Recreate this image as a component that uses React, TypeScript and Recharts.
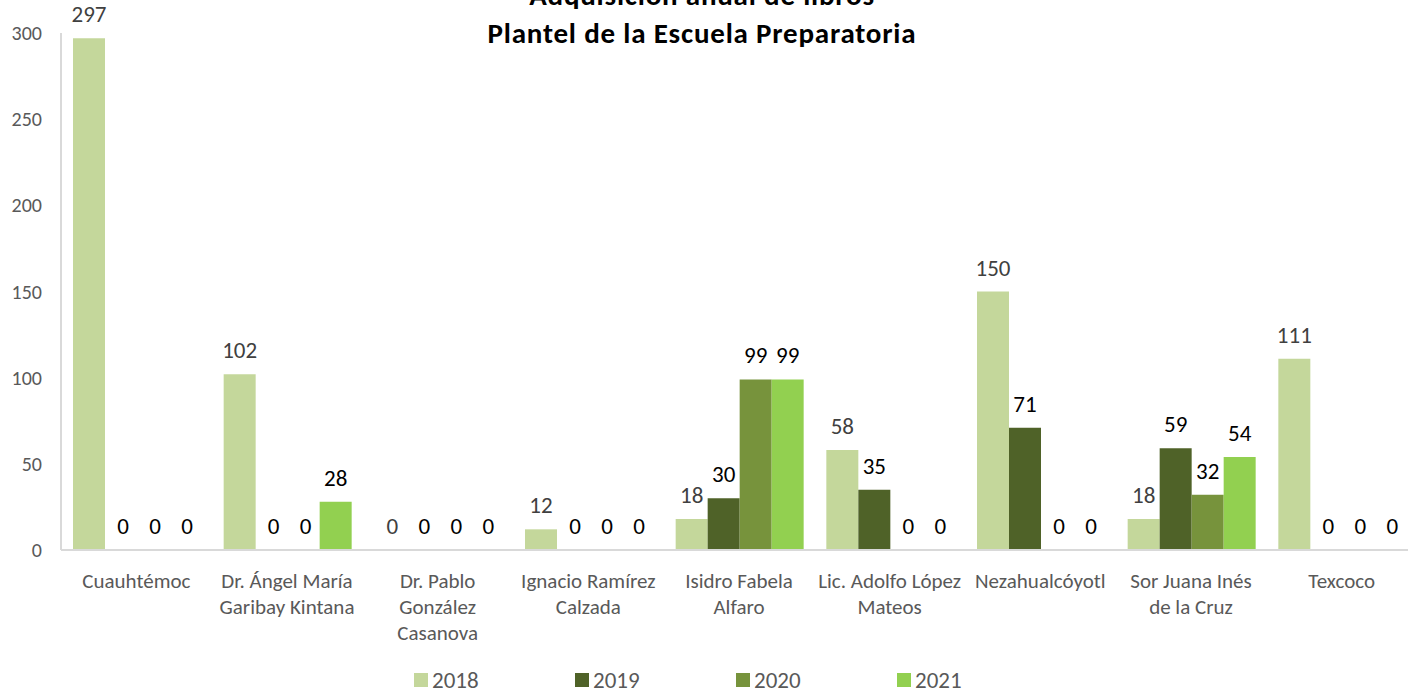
import React from "react";
import { BarChart, Bar, XAxis, YAxis, LabelList, Legend } from "recharts";

const categories = [
  "Cuauhtémoc",
  "Dr. Ángel María\nGaribay Kintana",
  "Dr. Pablo\nGonzález\nCasanova",
  "Ignacio Ramírez\nCalzada",
  "Isidro Fabela\nAlfaro",
  "Lic. Adolfo López\nMateos",
  "Nezahualcóyotl",
  "Sor Juana Inés\nde la Cruz",
  "Texcoco",
];
const years = ["2018", "2019", "2020", "2021"];
const v2018 = [297, 102, 0, 12, 18, 58, 150, 18, 111];
const v2019 = [0, 0, 0, 0, 30, 35, 71, 59, 0];
const v2020 = [0, 0, 0, 0, 99, 0, 0, 32, 0];
const v2021 = [0, 28, 0, 0, 99, 0, 0, 54, 0];
const yTicks = [0, 50, 100, 150, 200, 250, 300];
const titleLines = ["Adquisición anual de libros", "Plantel de la Escuela Preparatoria"];

const colors = ["#c4d79b", "#4f6228", "#77933c", "#92d050"];
const labelColors = ["#404040", "#000000", "#000000", "#000000"];
const FONT = "Carlito, Calibri, Lato, sans-serif";

const data = categories.map((c, i) => ({
  name: c,
  "2018": v2018[i],
  "2019": v2019[i],
  "2020": v2020[i],
  "2021": v2021[i],
}));

const CatTick = (props: any) => {
  const { x, y, payload } = props;
  const lines = String(payload.value).split("\n");
  return (
    <text x={x} y={y} textAnchor="middle" fill="#595959" fontSize={21} fontFamily={FONT}>
      {lines.map((l, i) => (
        <tspan key={i} x={x} dy={i === 0 ? 30 : 26}>
          {l}
        </tspan>
      ))}
    </text>
  );
};

const makeLabel = (color: string) => (props: any) => {
  const { x, y, width, height, value } = props;
  if (value === undefined || value === null) return null;
  const top = Number(y) + Math.min(0, Number(height));
  return (
    <text
      x={Number(x) + Number(width) / 2 + (value === 0 ? 2 : 0)}
      y={Math.min(Number(y), top) - 16}
      textAnchor="middle"
      fill={color}
      fontSize={23}
      fontFamily={FONT}
    >
      {String(value)}
    </text>
  );
};

const LegendContent = () => (
  <div style={{ display: "flex", fontFamily: FONT, fontSize: 23, color: "#595959", lineHeight: "26px" }}>
    {years.map((y, i) => (
      <div key={y} style={{ display: "flex", alignItems: "center", width: 161 }}>
        <div style={{ width: 14, height: 14, background: colors[i], marginRight: 4 }} />
        <span>{y}</span>
      </div>
    ))}
  </div>
);

const zeroMin = (value: any) => (value === 0 ? 0.01 : 0);

export default function App() {
  return (
    <div style={{ position: "absolute", left: 0, top: 0, width: 1408, height: 694, overflow: "hidden", background: "#fff" }}>
      <BarChart
        width={1430}
        height={694}
        data={data}
        margin={{ top: 33, right: 13, left: 0, bottom: 0 }}
        barCategoryGap={12}
        barGap={0}
      >
        <XAxis
          dataKey="name"
          axisLine={{ stroke: "#d9d9d9", strokeWidth: 2 }}
          tickLine={false}
          tick={<CatTick />}
          interval={0}
          height={114}
        />
        <YAxis
          domain={[0, 300]}
          ticks={yTicks}
          width={61}
          axisLine={{ stroke: "#d9d9d9", strokeWidth: 2 }}
          tickLine={false}
          tickMargin={13}
          tick={{ fill: "#595959", fontSize: 20, fontFamily: FONT }}
        />
        <Legend
          verticalAlign="bottom"
          height={30}
          content={<LegendContent />}
          wrapperStyle={{ left: 414, width: 700, bottom: -3 }}
        />
        {years.map((y, i) => (
          <Bar key={y} dataKey={y} fill={colors[i]} minPointSize={zeroMin} isAnimationActive={false}>
            <LabelList dataKey={y} content={makeLabel(labelColors[i])} />
          </Bar>
        ))}
      </BarChart>
      <div
        style={{
          position: "absolute",
          left: 0,
          top: -24,
          width: 1404,
          textAlign: "center",
          fontFamily: FONT,
          fontWeight: "bold",
          fontSize: 29,
          lineHeight: "38px",
          letterSpacing: 0.8,
          color: "#000",
        }}
      >
        {titleLines.map((t) => (
          <div key={t}>{t}</div>
        ))}
      </div>
    </div>
  );
}
